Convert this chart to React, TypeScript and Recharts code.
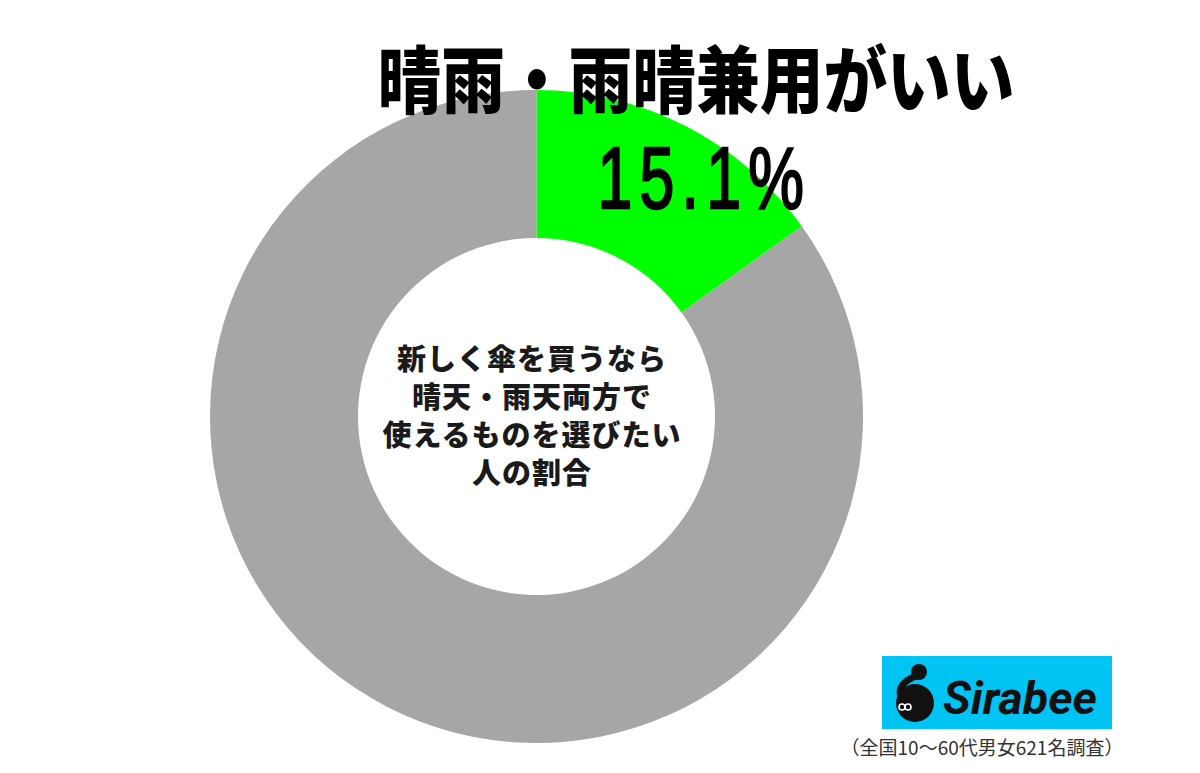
import React from "react";
import { PieChart, Pie, Cell } from "recharts";

// survey result: share of people who want a sun/rain combined umbrella
const answerLabels = ["晴雨・雨晴兼用がいい", "その他"];
const answerShares = [15.1, 84.9];
const sliceColors = ["#00ff00", "#a6a6a6"];
const centerLines = ["新しく傘を買うなら", "晴天・雨天両方で", "使えるものを選びたい", "人の割合"];
const surveyNote = "（全国10〜60代男女621名調査）";
const brandName = "Sirabee";

const pieData = answerLabels.map((name, i) => ({ name, value: answerShares[i] }));

const JP_FONT = '"Noto Sans CJK JP", "Noto Sans", sans-serif';

const renderHighlight = (props: any) => {
    if (props.index !== 0) return null;
    const { cx, cy } = props;
    return (
        <g>
            <text
                x={cx - 159}
                y={cy - 310}
                fontFamily={JP_FONT}
                fontWeight={900}
                fontSize={73}
                fill="#000"
                textLength={637}
                lengthAdjust="spacingAndGlyphs"
            >
                {props.name}
            </text>
            {/* condensed percentage, squeezed horizontally */}
            <g transform={`translate(${cx + 61}, ${cy - 209}) scale(0.72, 1)`}>
                <text
                    x={0}
                    y={0}
                    fontFamily='"Liberation Sans", Arial, sans-serif'
                    fontSize={87}
                    fill="#000"
                    stroke="#000"
                    strokeWidth={2.4}
                    letterSpacing={10}
                >
                    {`${props.value}%`}
                </text>
            </g>
        </g>
    );
};

function SirabeeLogo() {
    return (
        <svg
            width={240}
            height={80}
            viewBox="877 652 240 80"
            style={{ position: "absolute", left: 877, top: 652 }}
        >
            <rect x={882} y={656} width={230} height={73} fill="#00c4f4" />
            {/* mascot: head, neck and round body */}
            <circle cx={919} cy={672} r={8} fill="#111" />
            <path d="M 916 676 C 900 682, 897 692, 903 700" stroke="#111" strokeWidth={7} fill="none" />
            <circle cx={915} cy={703} r={19} fill="#111" />
            <circle cx={902} cy={707} r={3} fill="none" stroke="#fff" strokeWidth={1.6} />
            <circle cx={908} cy={707} r={3} fill="none" stroke="#fff" strokeWidth={1.6} />
            <text
                x={943}
                y={714}
                fontFamily="Roboto, Lato, sans-serif"
                fontWeight={700}
                fontStyle="italic"
                fontSize={46}
                fill="#111"
                textLength={154}
                lengthAdjust="spacingAndGlyphs"
            >
                {brandName}
            </text>
        </svg>
    );
}

export default function App() {
    return (
        <div style={{ position: "absolute", left: 0, top: 0, width: 1200, height: 773, background: "#fff" }}>
            <PieChart width={1200} height={773} margin={{ top: 0, right: 0, bottom: 0, left: 0 }}>
                <Pie
                    data={pieData}
                    dataKey="value"
                    nameKey="name"
                    cx={536.5}
                    cy={416.5}
                    innerRadius={178.5}
                    outerRadius={326.5}
                    startAngle={90}
                    endAngle={-270}
                    stroke="none"
                    label={renderHighlight}
                    labelLine={false}
                    isAnimationActive={false}
                >
                    {pieData.map((d, i) => (
                        <Cell key={d.name} fill={sliceColors[i]} />
                    ))}
                </Pie>
            </PieChart>
            <svg width={1200} height={773} style={{ position: "absolute", left: 0, top: 0, pointerEvents: "none" }}>
                {centerLines.map((line, i) => (
                    <text
                        key={line}
                        x={532}
                        y={370 + i * 38}
                        textAnchor="middle"
                        fontFamily={JP_FONT}
                        fontWeight={800}
                        fontSize={29}
                        letterSpacing={1}
                        fill="#1a1a1a"
                    >
                        {line}
                    </text>
                ))}
                <text
                    x={982}
                    y={755}
                    textAnchor="middle"
                    fontFamily={JP_FONT}
                    fontSize={19}
                    fill="#333"
                >
                    {surveyNote}
                </text>
            </svg>
            <SirabeeLogo />
        </div>
    );
}
